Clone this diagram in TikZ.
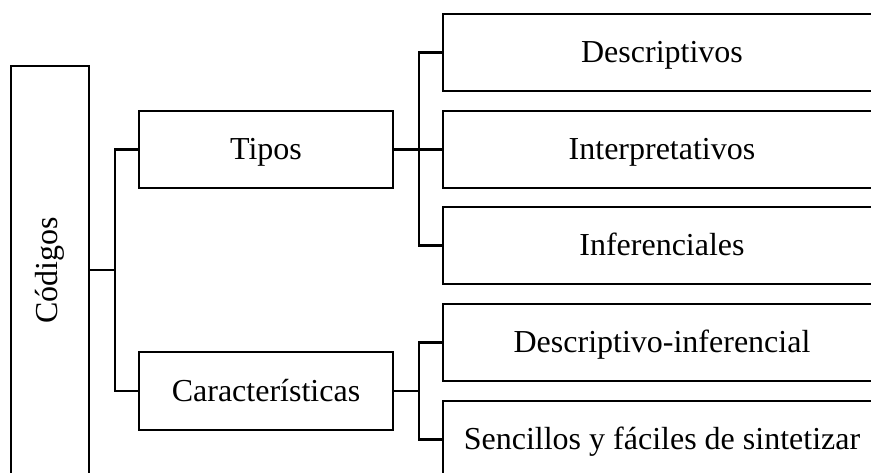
\documentclass[tikz,border=0pt]{standalone}
\usepackage{fontspec}
\setmainfont{Liberation Serif}
\begin{document}
\begin{tikzpicture}[x=1pt,y=-1pt,
  box/.style={draw=black,line width=2.1pt,fill=white,inner sep=0pt,text height=20pt,text depth=0pt,font=\fontsize{32}{36}\selectfont},
  conn/.style={draw=black,line width=2.1pt}]
\useasboundingbox (0,0) rectangle (871,472);
\clip (0,0) rectangle (871,472);
\node[draw=black,line width=2.1pt,minimum width=78pt,minimum height=408pt] (cod) at (50,270) {};
\node[rotate=90,font=\fontsize{32}{36}\selectfont] (codt) at (50,270) {Códigos};
\node[box,minimum width=254pt,minimum height=77pt] (tipos) at (266,149.5) {Tipos};
\node[box,minimum width=254pt,minimum height=78pt] (car) at (266,391) {Características};
\node[box,minimum width=438pt,minimum height=77pt] (d1) at (662,52.5) {Descriptivos};
\node[box,minimum width=438pt,minimum height=77pt] (d2) at (662,149.5) {Interpretativos};
\node[box,minimum width=438pt,minimum height=77pt] (d3) at (662,245.5) {Inferenciales};
\node[box,minimum width=438pt,minimum height=77pt] (d4) at (662,342.5) {Descriptivo-inferencial};
\node[box,minimum width=438pt,minimum height=77pt] (d5) at (662,439.5) {Sencillos y fáciles de sintetizar};
\draw[conn] (cod.east) -- ++(25,0) coordinate (j0);
\draw[conn] (j0) |- (tipos.west);
\draw[conn] (j0) |- (car.west);
\draw[conn] (tipos.east) -- ++(25,0) coordinate (j1);
\draw[conn] (j1) |- (d1.west);
\draw[conn] (j1) |- (d2.west);
\draw[conn] (j1) |- (d3.west);
\draw[conn] (car.east) -- ++(25,0) coordinate (j2);
\draw[conn] (j2) |- (d4.west);
\draw[conn] (j2) |- (d5.west);
\end{tikzpicture}
\end{document}
